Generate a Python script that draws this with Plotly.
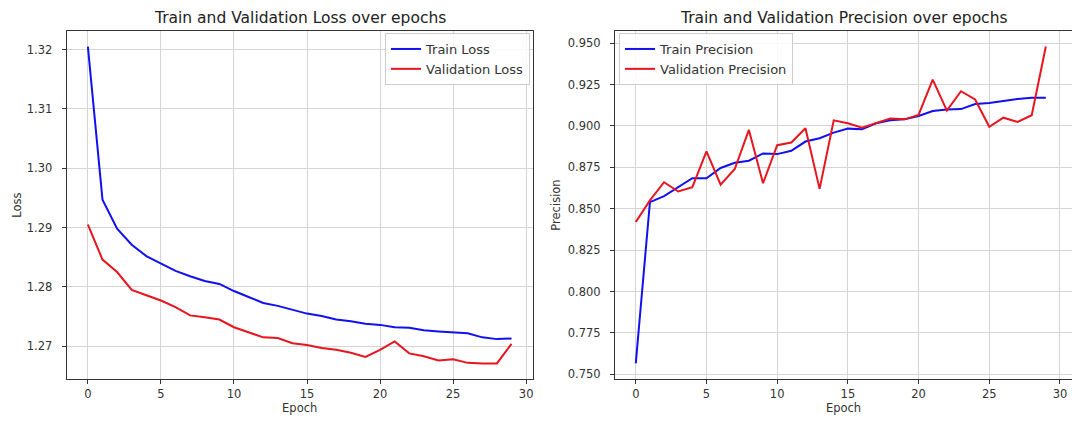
import plotly.graph_objects as go

epochs = list(range(30))

train_loss = [1.3205, 1.2947, 1.2898, 1.2871, 1.2852, 1.2840, 1.2827, 1.2818, 1.2810, 1.2805,
              1.2793, 1.2783, 1.2773, 1.2768, 1.2761, 1.2755, 1.2751, 1.2745, 1.2742, 1.2738,
              1.2736, 1.2732, 1.2731, 1.2727, 1.2725, 1.2723, 1.2722, 1.2715, 1.2712, 1.2713]
val_loss = [1.2905, 1.2846, 1.2825, 1.2795, 1.2786, 1.2777, 1.2766, 1.2752, 1.2749, 1.2745,
            1.2732, 1.2724, 1.2715, 1.2714, 1.2705, 1.2702, 1.2697, 1.2694, 1.2689, 1.2682,
            1.2694, 1.2708, 1.2688, 1.2683, 1.2676, 1.2678, 1.2672, 1.2671, 1.2671, 1.2704]

train_prec = [0.7565, 0.8540, 0.8576, 0.8630, 0.8684, 0.8684, 0.8746, 0.8778, 0.8790, 0.8834,
              0.8830, 0.8850, 0.8906, 0.8926, 0.8960, 0.8984, 0.8980, 0.9016, 0.9035, 0.9040,
              0.9060, 0.9090, 0.9100, 0.9102, 0.9133, 0.9139, 0.9153, 0.9163, 0.9170, 0.9170]
val_prec = [0.8420, 0.8550, 0.8660, 0.8604, 0.8630, 0.8846, 0.8646, 0.8740, 0.8976, 0.8654,
            0.8884, 0.8900, 0.8986, 0.8620, 0.9034, 0.9016, 0.8990, 0.9016, 0.9045, 0.9040,
            0.9067, 0.9280, 0.9093, 0.9210, 0.9160, 0.8995, 0.9050, 0.9025, 0.9065, 0.9480]

loss_ticks = [1.27, 1.28, 1.29, 1.30, 1.31, 1.32]
prec_ticks = [0.750, 0.775, 0.800, 0.825, 0.850, 0.875, 0.900, 0.925, 0.950]
epoch_ticks = [0, 5, 10, 15, 20, 25, 30]

W, H = 1072, 421
FONT = "DejaVu Sans"
BLUE = "#1010f0"
RED = "#e8141e"


def padded(a, b):
    lo, hi = min(a + b), max(a + b)
    p = 0.05 * (hi - lo)
    return [lo - p, hi + p]


fig = go.Figure()
fig.add_trace(go.Scatter(x=epochs, y=train_loss, mode="lines", name="Train Loss",
                         line=dict(color=BLUE, width=2), xaxis="x", yaxis="y", legend="legend"))
fig.add_trace(go.Scatter(x=epochs, y=val_loss, mode="lines", name="Validation Loss",
                         line=dict(color=RED, width=2), xaxis="x", yaxis="y", legend="legend"))
fig.add_trace(go.Scatter(x=epochs, y=train_prec, mode="lines", name="Train Precision",
                         line=dict(color=BLUE, width=2), xaxis="x2", yaxis="y2", legend="legend2"))
fig.add_trace(go.Scatter(x=epochs, y=val_prec, mode="lines", name="Validation Precision",
                         line=dict(color=RED, width=2), xaxis="x2", yaxis="y2", legend="legend2"))

x1 = [66.7 / W, 532.7 / W]
x2 = [615 / W, 1.0]
yd = [1 - 379.3 / H, 1 - 30.7 / H]

axis_common = dict(showline=True, linecolor="#333333", linewidth=1, mirror=True,
                   showgrid=True, gridcolor="#d4d4d4", gridwidth=1,
                   ticks="outside", ticklen=4, tickcolor="#333333",
                   tickfont=dict(family=FONT, size=11.5, color="#333333"),
                   zeroline=False, automargin=False)
title_font = dict(family=FONT, size=11.5, color="#333333")

fig.update_layout(
    width=W, height=H,
    margin=dict(l=0, r=0, t=0, b=0),
    paper_bgcolor="white", plot_bgcolor="white",
    font=dict(family=FONT, color="#333333"),
    xaxis=dict(domain=x1, anchor="y", range=[-1.45, 30.45], tickvals=epoch_ticks,
               title=dict(text="Epoch", font=title_font, standoff=3),
               **axis_common),
    yaxis=dict(domain=yd, anchor="x", range=padded(train_loss, val_loss), tickvals=loss_ticks,
               tickformat=".2f", ticklabelstandoff=7,
               title=dict(text="Loss", font=title_font, standoff=2),
               **axis_common),
    xaxis2=dict(domain=x2, anchor="y2", range=[-1.47, 30.85], tickvals=epoch_ticks,
                title=dict(text="Epoch", font=title_font, standoff=3),
                **axis_common),
    yaxis2=dict(domain=yd, anchor="x2", range=padded(train_prec, val_prec), tickvals=prec_ticks,
                tickformat=".3f", ticklabelstandoff=7,
                title=dict(text="Precision", font=title_font, standoff=4),
                **axis_common),
    legend=dict(x=530 / W, xanchor="right", y=1 - 33 / H, yanchor="top",
                bgcolor="rgba(255,255,255,0.85)", bordercolor="#cccccc", borderwidth=1,
                font=dict(family=FONT, size=13, color="#333333"), tracegroupgap=2),
    legend2=dict(x=619 / W, xanchor="left", y=1 - 33 / H, yanchor="top",
                 bgcolor="rgba(255,255,255,0.85)", bordercolor="#cccccc", borderwidth=1,
                 font=dict(family=FONT, size=13, color="#333333"), tracegroupgap=2),
    annotations=[
        dict(text="Train and Validation Loss over epochs", x=(x1[0] + x1[1]) / 2, y=1 - 18 / H,
             xref="paper", yref="paper", xanchor="center", yanchor="middle", showarrow=False,
             font=dict(family=FONT, size=15.5, color="#222222")),
        dict(text="Train and Validation Precision over epochs", x=844 / W, y=1 - 18 / H,
             xref="paper", yref="paper", xanchor="center", yanchor="middle", showarrow=False,
             font=dict(family=FONT, size=15.5, color="#222222")),
    ],
)

fig.write_html("out.html",
               config={"displayModeBar": False},
               post_script="document.documentElement.style.margin='0';"
                           "document.body.style.margin='0';"
                           "document.body.style.overflow='hidden';")
